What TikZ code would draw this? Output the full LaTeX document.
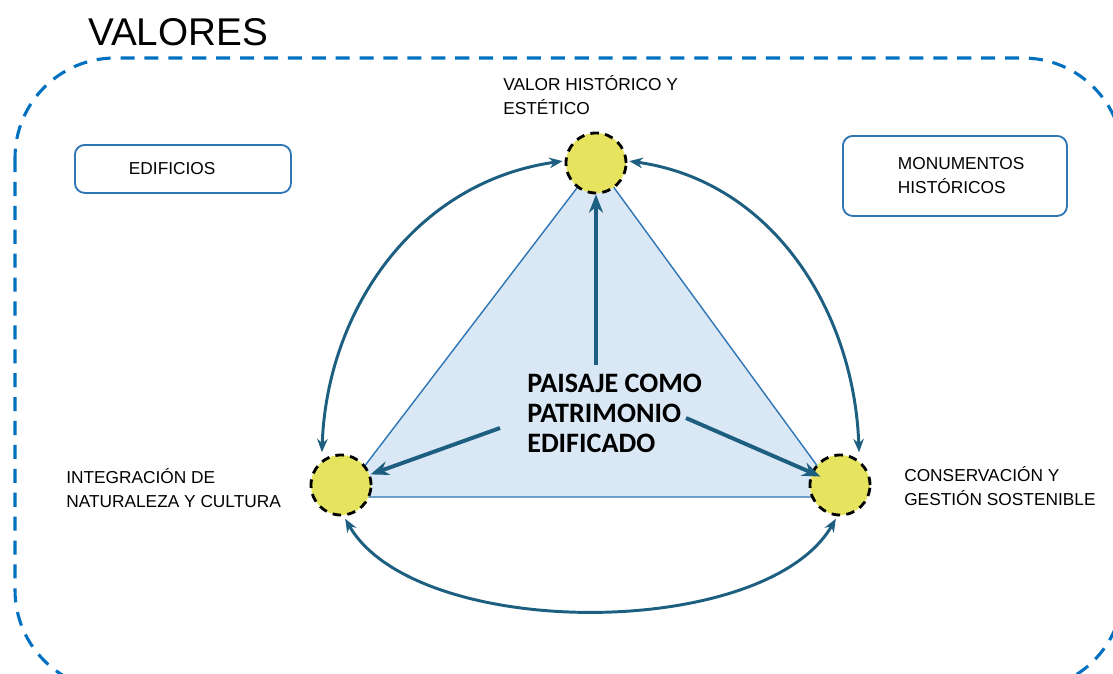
\documentclass[tikz,border=0pt]{standalone}
\usepackage{fontspec}
\setmainfont{Liberation Sans}
\newfontfamily\narrowfont{Carlito}
\usetikzlibrary{arrows.meta}
\definecolor{frameblue}{HTML}{0070C0}
\definecolor{boxblue}{HTML}{2E75B6}
\definecolor{trifill}{HTML}{DAE8F5}
\definecolor{dotyellow}{HTML}{E6E35E}
\definecolor{arrowteal}{HTML}{1D5F80}

\begin{document}
\begin{tikzpicture}
[x=0.025cm,y=-0.025cm,%%%%%%%%%%%%%%%%%%%%%%%%%%%%%%
frame/.style={draw=frameblue,line width=2.2pt,dash pattern=on 10pt off 7pt,rounded corners=2.5cm},
box/.style={rectangle,draw=boxblue,line width=1.3pt,rounded corners=7pt,align=left,anchor=north west,font=\fontsize{12.3}{17}\selectfont},
dot/.style={circle,draw=black,fill=dotyellow,line width=2pt,dash pattern=on 6pt off 4.5pt,minimum size=1.5cm,inner sep=0pt},
lbl/.style={align=left,inner sep=0pt,anchor=west,font=\fontsize{12.3}{17}\selectfont},
link/.style={draw=arrowteal,line width=2.1pt,{Stealth[length=9.5pt,width=7.5pt]}-{Stealth[length=9.5pt,width=7.5pt]}},
push/.style={draw=arrowteal,line width=2.8pt,-{Stealth[length=13pt,width=10pt]}},
]%%%%%%%%%%%%%%%%%%%%%%%%%%%%%%
\useasboundingbox (0,0) rectangle (1113,673);
\draw[frame] (15,58) rectangle (1123,690);
\node (valores) at (178,32) {\fontsize{27.5}{30}\selectfont VALORES};

% boxes
\node[box,text width=2.7cm,inner xsep=1.35cm,minimum height=1.2cm] (edif) at (74,144) {EDIFICIOS};
\node[box,text width=2.85cm,inner xsep=1.375cm,minimum height=2cm] (monu) at (842,135) {MONUMENTOS\\HISTÓRICOS\\[6pt]};

% triangle
\filldraw[fill=trifill,draw=boxblue,line width=1pt] (596,163) -- (341,497) -- (840,497) -- cycle;

\node[dot] (hist) at (596,163) {};
\node[dot] (integ) at (341,485) {};
\node[dot] (cons) at (840,485) {};

\node[lbl] (histtxt) at (503,95.5) {VALOR HISTÓRICO Y\\ESTÉTICO};
\node[lbl] (integtxt) at (66,488) {INTEGRACIÓN DE\\NATURALEZA Y CULTURA};
\node[lbl] (constxt) at (904,486) {CONSERVACIÓN Y\\GESTIÓN SOSTENIBLE};

\node[lbl,font=\narrowfont\bfseries\fontsize{20}{21.3}\selectfont] (paisaje) at (527,413) {PAISAJE COMO\\PATRIMONIO\\EDIFICADO};

% arrows
\coordinate (pl) at (500,428);
\coordinate (pr) at (686,418);
\draw[push] ([yshift=6pt]paisaje.north -| hist) -- (hist);
\draw[push] (pl) -- (integ);
\draw[push,shorten >=0.53cm] (pr) -- (cons.center);

\draw[link,shorten <=0.2cm,shorten >=0.05cm] (integ.128) to[out=88,in=188] (hist.176);
\draw[link,shorten <=0.05cm,shorten >=0.2cm] (hist.4) to[out=-8,in=92] (cons.52);
\draw[link,shorten <=2pt,shorten >=2pt] (integ.-85) to[out=-60,in=-120,looseness=0.75] (cons.-95);
\end{tikzpicture}
\end{document}
